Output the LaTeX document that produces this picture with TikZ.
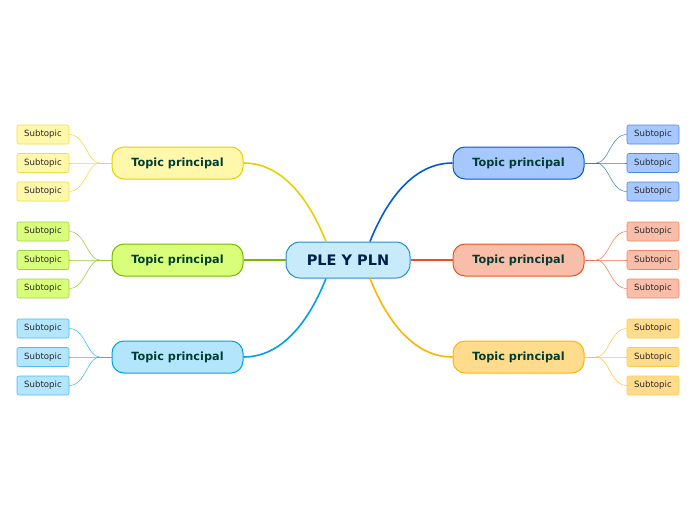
\documentclass[tikz,border=0pt]{standalone}
\usepackage{fontspec}
\setmainfont{DejaVu Sans}
\usepackage{tikz}
\usetikzlibrary{positioning, calc}
\definecolor{ctrdraw}{RGB}{40,140,200}
\definecolor{ctrfill}{RGB}{200,235,252}
\definecolor{ctrtext}{RGB}{0,30,70}
\definecolor{topictext}{RGB}{0,60,50}
\definecolor{subtext}{RGB}{40,40,40}
\definecolor{yel}{RGB}{232,208,0}
\definecolor{yelfill}{RGB}{255,247,170}
\definecolor{grn}{RGB}{120,185,0}
\definecolor{grnfill}{RGB}{217,255,122}
\definecolor{cyn}{RGB}{0,160,230}
\definecolor{cynfill}{RGB}{179,229,252}
\definecolor{blu}{RGB}{0,90,210}
\definecolor{blufill}{RGB}{166,200,255}
\definecolor{red}{RGB}{240,80,30}
\definecolor{redfill}{RGB}{249,190,170}
\definecolor{org}{RGB}{255,180,0}
\definecolor{orgfill}{RGB}{255,219,140}
\tikzset{
  central/.style={rectangle, draw=ctrdraw, fill=ctrfill,
    minimum width=124pt, minimum height=36pt, rounded corners=14pt,
    font=\fontsize{14.5}{16}\selectfont\bfseries, text=ctrtext, line width=1pt},
  topic/.style={rectangle, draw=#1, fill=#1fill,
    minimum width=131pt, minimum height=32pt, rounded corners=12pt,
    font=\fontsize{11.3}{13}\selectfont\bfseries, text=topictext, line width=1pt},
  subtopic/.style={rectangle, draw=#1!70!white, fill=#1fill, inner sep=0pt,
    minimum width=52pt, minimum height=19pt, rounded corners=2pt,
    font=\fontsize{8.6}{10}\selectfont, text=subtext, line width=0.6pt},
  branch/.style={draw=#1, line width=1.6pt},
  twig/.style={draw=#1!80!white, line width=0.5pt}
}

\begin{document}
\begin{tikzpicture}[x=1pt, y=-1pt]
  \useasboundingbox (0,0) rectangle (696,520);

  % Central topic
  \node[central] (ctr) at (348,260) {PLE Y PLN};

  % Main topics
  \node[topic=yel] (tyel) at (177.5,163) {Topic principal};
  \node[topic=grn] (tgrn) at (177.5,260) {Topic principal};
  \node[topic=cyn] (tcyn) at (177.5,357) {Topic principal};
  \node[topic=blu] (tblu) at (518.5,163) {Topic principal};
  \node[topic=red] (tred) at (518.5,260) {Topic principal};
  \node[topic=org] (torg) at (518.5,357) {Topic principal};

  % Branches to the centre
  \draw[branch=yel] (tyel.east) .. controls +(45,0) and +(-12,-30) .. ($(ctr.north)+(-22,0)$);
  \draw[branch=grn] (tgrn.east) -- (ctr.west);
  \draw[branch=cyn] (tcyn.east) .. controls +(45,0) and +(-12,30) .. ($(ctr.south)+(-22,0)$);
  \draw[branch=blu] (tblu.west) .. controls +(-45,0) and +(12,-30) .. ($(ctr.north)+(22,0)$);
  \draw[branch=red] (tred.west) -- (ctr.east);
  \draw[branch=org] (torg.west) .. controls +(-45,0) and +(12,30) .. ($(ctr.south)+(22,0)$);

  % Subtopics
  \foreach \c/\a/\b/\s in {yel/west/east/-1, grn/west/east/-1, cyn/west/east/-1,
                           blu/east/west/1, red/east/west/1, org/east/west/1} {
    \coordinate (j\c) at ($(t\c.\a)+(\s*12,0)$);
    \draw[twig=\c] (t\c.\a) -- (j\c);
    \foreach \i/\dy in {1/-28.5, 2/0, 3/28.5} {
      \node[subtopic=\c] (s\c\i) at ($(t\c)+(\s*134.5,\dy)$) {Subtopic};
      \draw[twig=\c] (j\c) .. controls +(\s*12,0) and +(\s*-16,0) .. (s\c\i.\b);
    }
  }
\end{tikzpicture}
\end{document}
